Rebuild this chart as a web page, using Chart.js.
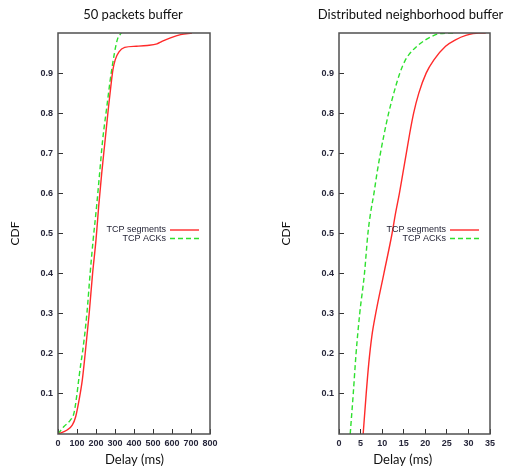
<!DOCTYPE html>
<html><head><meta charset="utf-8">
<script src="https://cdn.jsdelivr.net/npm/chart.js@4.4.0/dist/chart.umd.min.js"></script>
<style>
html,body{margin:0;padding:0;background:#fff;width:506px;height:468px;overflow:hidden}
canvas{position:absolute;top:0}
#c1{left:0}
#c2{left:253px}
</style></head><body>
<canvas id="c1" width="253" height="468"></canvas>
<canvas id="c2" width="253" height="468"></canvas>
<script>
// ---------- text ----------
const seriesNames = ['TCP segments', 'TCP ACKs'];
const chartTitles = ['50 packets buffer', 'Distributed neighborhood buffer'];
const xAxisTitle = 'Delay (ms)';
const yAxisTitle = 'CDF';

// ---------- tick labels ----------
const yTickValues = [0.1, 0.2, 0.3, 0.4, 0.5, 0.6, 0.7, 0.8, 0.9];
const leftXTicks = [0, 100, 200, 300, 400, 500, 600, 700, 800];
const rightXTicks = [0, 5, 10, 15, 20, 25, 30, 35];

// ---------- left chart: 50 packets buffer ----------
const leftSegDelay = [0, 48, 75, 93, 111, 128, 143, 164, 182, 200, 214, 230, 248, 266, 280, 289, 301, 321, 351, 413, 470, 521, 547, 592, 645, 705];
const leftSegCdf   = [0, 0.01, 0.022, 0.043, 0.085, 0.135, 0.2, 0.3, 0.4, 0.484, 0.567, 0.65, 0.733, 0.816, 0.875, 0.908, 0.933, 0.953, 0.964, 0.967, 0.969, 0.973, 0.979, 0.988, 0.996, 1.0];
const leftAckDelay = [0, 30, 66, 84, 98, 111, 123, 128, 152, 169, 185, 203, 219, 235, 257, 280, 312, 333];
const leftAckCdf   = [0, 0.018, 0.035, 0.052, 0.093, 0.143, 0.185, 0.2, 0.3, 0.4, 0.484, 0.567, 0.65, 0.733, 0.816, 0.9, 0.983, 1.0];

// ---------- right chart: distributed neighborhood buffer ----------
const rightSegDelay = [5.6, 6.3, 6.9, 7.6, 8.5, 10.4, 12.3, 13.1, 14.0, 14.8, 15.6, 16.4, 17.3, 18.5, 20.2, 22.0, 24.7, 27.0, 29.4, 32.4, 34.0];
const rightSegCdf   = [0, 0.1, 0.176, 0.243, 0.3, 0.4, 0.5, 0.55, 0.6, 0.65, 0.7, 0.75, 0.8, 0.85, 0.9, 0.933, 0.967, 0.983, 0.994, 1.0, 1.0];
const rightAckDelay = [2.6, 3.3, 3.95, 4.8, 5.9, 6.7, 7.3, 8.1, 8.8, 9.6, 10.5, 11.5, 12.7, 14.1, 15.4, 16.2, 18.5, 21.6, 23.2, 27.0];
const rightAckCdf   = [0, 0.1, 0.2, 0.3, 0.4, 0.5, 0.55, 0.6, 0.65, 0.7, 0.75, 0.8, 0.85, 0.9, 0.933, 0.946, 0.971, 0.992, 0.998, 1.0];

function pts(xs, ys) { return xs.map((x, i) => ({x: x, y: ys[i]})); }

Chart.defaults.font.family = "'Liberation Sans', Arial, sans-serif";
Chart.defaults.color = '#26263a';

const framePlugin = {
  id: 'frame',
  afterDraw(chart) {
    const a = chart.chartArea, ctx = chart.ctx;
    ctx.save();
    ctx.strokeStyle = '#505050';
    ctx.lineWidth = 1.5;
    ctx.strokeRect(a.left, a.top, a.right - a.left, a.bottom - a.top);
    ctx.restore();
  }
};

const captionPlugin = {
  id: 'captions',
  afterDraw(chart, args, opts) {
    const ctx = chart.ctx;
    ctx.save();
    ctx.fillStyle = '#111';
    ctx.textAlign = 'center';
    ctx.textBaseline = 'middle';
    ctx.font = opts.font;
    ctx.fillText(opts.title, opts.titleX, opts.titleY);
    ctx.fillText(opts.xlabel, opts.xlabelX, opts.xlabelY);
    ctx.restore();
  }
};

const keyPlugin = {
  id: 'gkey',
  afterDraw(chart, args, opts) {
    const ctx = chart.ctx, a = chart.chartArea;
    ctx.save();
    ctx.font = '9px ' + Chart.defaults.font.family;
    ctx.textAlign = 'right';
    ctx.textBaseline = 'middle';
    chart.data.datasets.forEach((ds, i) => {
      const y = a.top + opts.top + i * opts.row;
      ctx.fillStyle = '#1e1e30';
      ctx.fillText(ds.label, a.right - opts.textEnd, y);
      ctx.strokeStyle = ds.borderColor;
      ctx.lineWidth = ds.borderWidth;
      ctx.setLineDash(ds.borderDash || []);
      ctx.beginPath();
      ctx.moveTo(a.right - opts.lineStart, y);
      ctx.lineTo(a.right - opts.lineEnd, y);
      ctx.stroke();
    });
    ctx.restore();
  }
};

function makeChart(id, segD, segC, ackD, ackC, xTicks, xMax, cfg) {
  return new Chart(document.getElementById(id), {
    type: 'line',
    data: {
      datasets: [
        { label: seriesNames[0], data: pts(segD, segC), borderColor: '#ff2a2a', borderWidth: 1.4,
          pointRadius: 0, cubicInterpolationMode: 'monotone', fill: false },
        { label: seriesNames[1], data: pts(ackD, ackC), borderColor: '#2ee02e', borderWidth: 1.4,
          borderDash: [5, 3], pointRadius: 0, cubicInterpolationMode: 'monotone', fill: false }
      ]
    },
    plugins: [framePlugin, captionPlugin, keyPlugin],
    options: {
      responsive: false,
      animation: false,
      layout: { padding: { top: 33, right: cfg.padRight, left: 0, bottom: 0 } },
      plugins: {
        legend: { display: false },
        tooltip: { enabled: false },
        captions: cfg.captions,
        gkey: { top: 197, row: 8.5, textEnd: 44, lineStart: 40, lineEnd: 11 }
      },
      scales: {
        x: {
          type: 'linear', min: 0, max: xMax,
          afterBuildTicks: s => { s.ticks = xTicks.map(v => ({value: v})); },
          afterFit: s => { s.height = 34; },
          ticks: { font: { size: 9, weight: 'bold' }, padding: 9, maxRotation: 0, autoSkip: false,
                   callback: v => String(v) },
          grid: { drawOnChartArea: false, drawTicks: true, tickLength: -5, color: '#333', lineWidth: 1 },
          border: { display: false }
        },
        y: {
          type: 'linear', min: 0, max: 1,
          afterBuildTicks: s => { s.ticks = yTickValues.map(v => ({value: v})); },
          afterFit: s => { s.width = cfg.yWidth; },
          ticks: { font: { size: 9, weight: 'bold' }, padding: 10, autoSkip: false,
                   callback: v => v.toFixed(1) },
          grid: { drawOnChartArea: false, drawTicks: true, tickLength: -5, color: '#333', lineWidth: 1 },
          border: { display: false },
          title: { display: true, text: yAxisTitle, color: '#111',
                   font: { size: 12, family: "Lato, 'Open Sans', sans-serif" },
                   padding: { top: cfg.yTitlePad, bottom: 0 } }
        }
      }
    }
  });
}

makeChart('c1', leftSegDelay, leftSegCdf, leftAckDelay, leftAckCdf, leftXTicks, 800, {
  padRight: 43, yWidth: 58, yTitlePad: 8,
  captions: { font: "13px Lato, 'Open Sans', sans-serif", title: chartTitles[0], titleX: 133, titleY: 15,
              xlabel: xAxisTitle, xlabelX: 134.5, xlabelY: 460 }
});
makeChart('c2', rightSegDelay, rightSegCdf, rightAckDelay, rightAckCdf, rightXTicks, 35, {
  padRight: 16, yWidth: 86, yTitlePad: 26,
  captions: { font: "13px Lato, 'Open Sans', sans-serif", title: chartTitles[1], titleX: 157.5, titleY: 15,
              xlabel: xAxisTitle, xlabelX: 149.7, xlabelY: 460 }
});
</script>
</body></html>
